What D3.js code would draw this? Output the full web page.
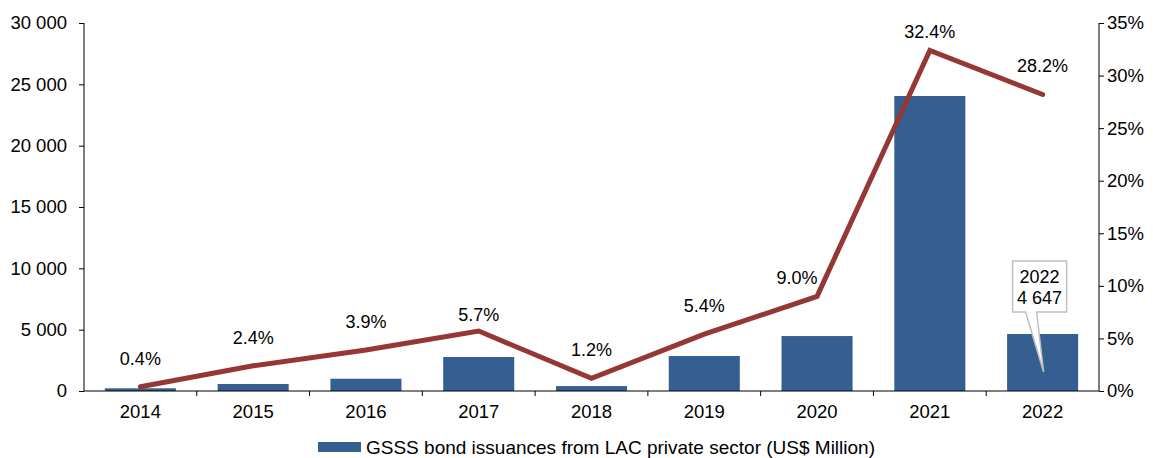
<!DOCTYPE html>
<html>
<head>
<meta charset="utf-8">
<script src="https://cdn.jsdelivr.net/npm/d3@7"></script>
<style>
  body { margin: 0; background: #fff; }
  svg text { font-family: "Liberation Sans", Arial, sans-serif; fill: #000; }
</style>
</head>
<body>
<div id="chart"></div>
<script>
// data
const years = ['2014', '2015', '2016', '2017', '2018', '2019', '2020', '2021', '2022'];
const issuances = [220, 570, 1000, 2770, 400, 2850, 4480, 24050, 4647];
const shares = [0.4, 2.4, 3.9, 5.7, 1.2, 5.4, 9.0, 32.4, 28.2];
const leftTicks = [0, 5000, 10000, 15000, 20000, 25000, 30000];
const rightTicks = [0, 5, 10, 15, 20, 25, 30, 35];
const legendLabel = 'GSSS bond issuances from LAC private sector (US$ Million)';

const width = 1153, height = 458;
const margin = {left: 84, right: 54, top: 23, bottom: 67};

const svg = d3.select('#chart')
    .append('svg')
    .attr('width', width)
    .attr('height', height);

const x = d3.scaleBand()
    .domain(years)
    .range([margin.left, width - margin.right])
    .paddingInner(0.37)
    .paddingOuter(0.185);

// band grid for the between-category ticks
const xb = d3.scaleBand().domain(years).range([margin.left, width - margin.right]);

const yL = d3.scaleLinear().domain([0, 30000]).range([height - margin.bottom, margin.top]);
const yR = d3.scaleLinear().domain([0, 35]).range([height - margin.bottom, margin.top]);

const fmt = d => d3.format(',')(d).replace(/,/g, ' ');

// left axis
const gL = svg.append('g')
    .attr('transform', `translate(${margin.left},0)`)
    .call(d3.axisLeft(yL).tickValues(leftTicks).tickFormat(fmt).tickSize(5).tickPadding(12));

// right axis
const gR = svg.append('g')
    .attr('transform', `translate(${width - margin.right},0)`)
    .call(d3.axisRight(yR).tickValues(rightTicks).tickFormat(d => d + '%').tickSize(5).tickPadding(3));

[gL, gR].forEach(g => {
    g.selectAll('path, line').attr('stroke', '#000').attr('stroke-width', 1);
    g.selectAll('text').style('font-size', '18.5px');
    g.select('.domain').attr('d', `M0,${margin.top}V${height - margin.bottom}`);
});

// bars
svg.append('g').selectAll('rect')
    .data(years)
    .enter()
    .append('rect')
    .attr('x', d => x(d))
    .attr('width', x.bandwidth())
    .attr('y', (d, i) => yL(issuances[i]))
    .attr('height', (d, i) => yL(0) - yL(issuances[i]))
    .attr('fill', '#365F91');

// bottom axis
const base = height - margin.bottom;
svg.append('line')
    .attr('x1', margin.left).attr('x2', width - margin.right)
    .attr('y1', base).attr('y2', base)
    .attr('stroke', '#000');
svg.append('g').selectAll('line')
    .data(years.slice(1))
    .enter()
    .append('line')
    .attr('x1', d => xb(d)).attr('x2', d => xb(d))
    .attr('y1', base).attr('y2', base + 5)
    .attr('stroke', '#000');
svg.append('g').selectAll('text')
    .data(years)
    .enter()
    .append('text')
    .attr('x', d => xb(d) + xb.bandwidth() / 2)
    .attr('y', base + 27)
    .attr('text-anchor', 'middle')
    .style('font-size', '18.5px')
    .text(d => d);

// share line
const line = d3.line()
    .x((d, i) => xb(years[i]) + xb.bandwidth() / 2)
    .y(d => yR(d));

svg.append('path')
    .datum(shares)
    .attr('d', line)
    .attr('fill', 'none')
    .attr('stroke', '#953735')
    .attr('stroke-width', 5)
    .attr('stroke-linecap', 'round');

// some labels were nudged by hand in the original
const nudge = {3: [0, 12], 6: [-20, 10], 7: [0, 10]};
svg.append('g').selectAll('text')
    .data(shares)
    .enter()
    .append('text')
    .attr('x', (d, i) => xb(years[i]) + xb.bandwidth() / 2 + (nudge[i] ? nudge[i][0] : 0))
    .attr('y', (d, i) => yR(d) - 22 + (nudge[i] ? nudge[i][1] : 0))
    .attr('text-anchor', 'middle')
    .style('font-size', '18px')
    .text(d => d.toFixed(1) + '%');

// callout on 2022 bar
const last = years.length - 1;
const cx = xb(years[last]) + xb.bandwidth() / 2;
const tipY = yL(0) - 19;
const bx0 = cx - 30, bx1 = cx + 24, by0 = 261, by1 = 312;
svg.append('path')
    .attr('d', `M${bx0},${by0}H${bx1}V${by1}H${cx - 6}L${cx + 1},${tipY}L${cx - 17},${by1}H${bx0}Z`)
    .attr('fill', '#fff')
    .attr('stroke', '#bfbfbf')
    .attr('stroke-width', 1.5);
svg.append('text')
    .attr('x', (bx0 + bx1) / 2).attr('y', by0 + 22)
    .attr('text-anchor', 'middle')
    .style('font-size', '18px')
    .text(years[last]);
svg.append('text')
    .attr('x', (bx0 + bx1) / 2).attr('y', by0 + 43)
    .attr('text-anchor', 'middle')
    .style('font-size', '18px')
    .text(fmt(issuances[last]));

// legend
svg.append('rect')
    .attr('x', 318).attr('y', 442)
    .attr('width', 43).attr('height', 10)
    .attr('fill', '#365F91');
svg.append('text')
    .attr('x', 366).attr('y', 454)
    .style('font-size', '19px')
    .text(legendLabel);
</script>
</body>
</html>
